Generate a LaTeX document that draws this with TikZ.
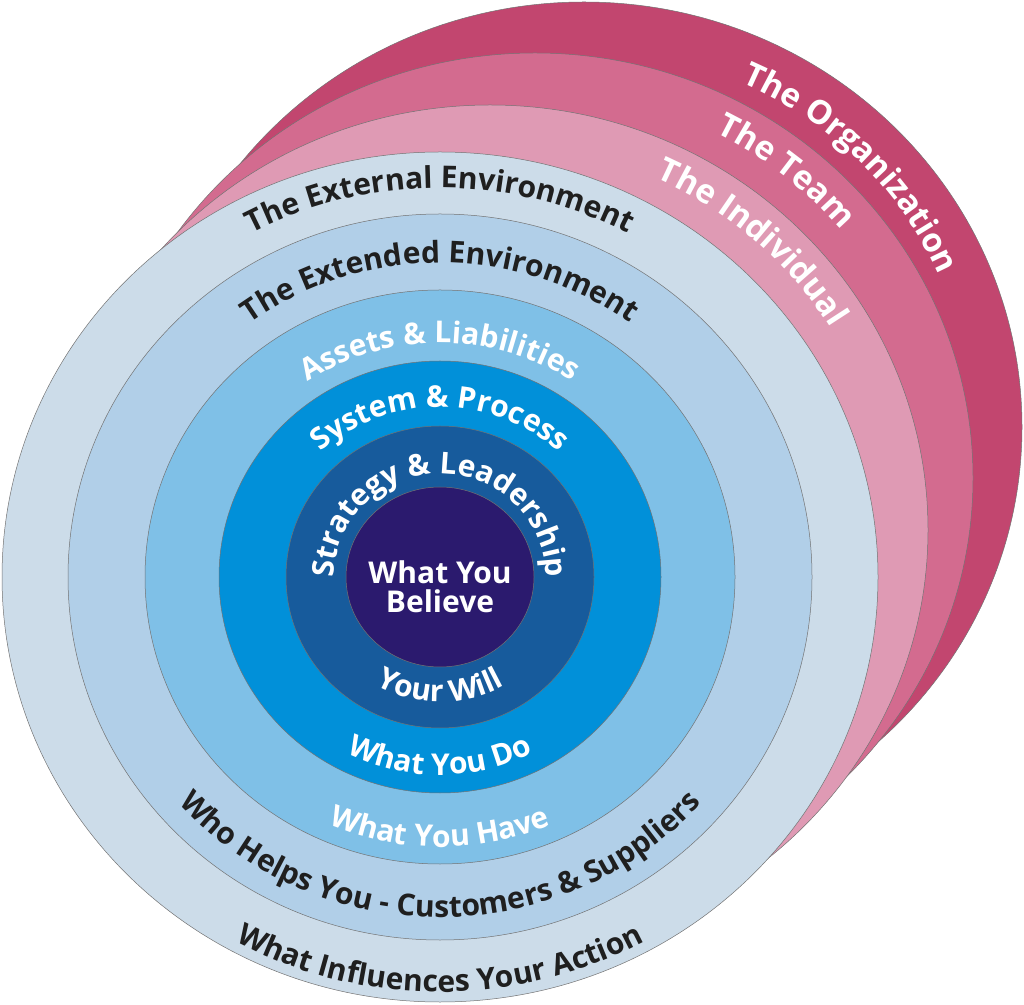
\documentclass[tikz,border=0pt]{standalone}
\usepackage{fontspec}
\setmainfont{Open Sans}
\usepackage{tikz}
\usetikzlibrary{decorations.text}
\definecolor{org}{HTML}{C2466F}
\definecolor{team}{HTML}{D36B8F}
\definecolor{indiv}{HTML}{DF9AB4}
\definecolor{extern}{HTML}{CCDCE9}
\definecolor{extend}{HTML}{B1CFE8}
\definecolor{assets}{HTML}{7FC0E7}
\definecolor{system}{HTML}{0190D9}
\definecolor{strat}{HTML}{175B9C}
\definecolor{belief}{HTML}{2B1A6E}
\newcommand{\darktxt}{\bfseries\fontsize{30}{32}\selectfont\color{black!88}}
\newcommand{\lighttxt}{\bfseries\fontsize{30}{32}\selectfont\color{white}}
\newcommand{\pinktxt}{\bfseries\fontsize{33}{35}\selectfont\color{white}}

\begin{document}
\begin{tikzpicture}[x=1pt,y=1pt,
    disc/.style={draw=black!55,line width=0.5pt},
    ringtext/.style={decorate,decoration={text along path,text align=center,text={#1}}}
  ]
    \useasboundingbox (0,0) rectangle (1024,1004);
    \coordinate (c) at (440,427);
    \coordinate (ci) at (490,474);
    \coordinate (ct) at (535,526);
    \coordinate (co) at (584,577);
    % back discs
    \draw[disc,fill=org] (co) ellipse [x radius=438,y radius=425];
    \draw[disc,fill=team] (ct) ellipse [x radius=438,y radius=425];
    \draw[disc,fill=indiv] (ci) ellipse [x radius=438,y radius=425];
    % front rings
    \draw[disc,fill=extern] (c) ellipse [x radius=438,y radius=425];
    \draw[disc,fill=extend] (c) ellipse [x radius=372,y radius=363];
    \draw[disc,fill=assets] (c) ellipse [x radius=295,y radius=287];
    \draw[disc,fill=system] (c) ellipse [x radius=221,y radius=216];
    \draw[disc,fill=strat] (c) ellipse [x radius=154,y radius=151];
    \draw[disc,fill=belief] (c) ellipse [x radius=94,y radius=90];
    \node[align=center,font=\lighttxt,inner sep=0pt] (believe) at ([yshift=-10]c) {What You\\[-3pt]Believe};
    % upper labels
    \path[ringtext={|\darktxt|The External Environment}] (c) ++(185:401 and 389) arc[start angle=185,end angle=-5,x radius=401,y radius=389];
    \path[ringtext={|\darktxt|The Extended Environment}] (c) ++(185:323 and 314) arc[start angle=185,end angle=-5,x radius=323,y radius=314];
    \path[ringtext={|\lighttxt|Assets {\&} Liabilities}] (c) ++(185:241 and 234) arc[start angle=185,end angle=-5,x radius=241,y radius=234];
    \path[ringtext={|\lighttxt|System {\&} Process}] (c) ++(200:176 and 170) arc[start angle=200,end angle=-20,x radius=176,y radius=170];
    \path[ringtext={|\lighttxt|Strategy {\&} Leadership}] (c) ++(215:106 and 103) arc[start angle=215,end angle=-35,x radius=106,y radius=103];
    % lower labels
    \path[ringtext={|\lighttxt|Your Will}] (c) ++(180:129 and 125) arc[start angle=180,end angle=360,x radius=129,y radius=125];
    \path[ringtext={|\lighttxt|What You Do}] (c) ++(180:204 and 198) arc[start angle=180,end angle=360,x radius=204,y radius=198];
    \path[ringtext={|\lighttxt|What You Have}] (c) ++(180:278 and 270) arc[start angle=180,end angle=360,x radius=278,y radius=270];
    \path[ringtext={|\darktxt|Who Helps You - Customers {\&} Suppliers}] (c) ++(160:350 and 340) arc[start angle=160,end angle=380,x radius=350,y radius=340];
    \path[ringtext={|\darktxt|What Influences Your Action}] (c) ++(180:427 and 415) arc[start angle=180,end angle=360,x radius=427,y radius=415];
    % back disc labels
    \path[ringtext={|\pinktxt|The Individual}] (ci) ++(98:399 and 387) arc[start angle=98,end angle=-2,x radius=399,y radius=387];
    \path[ringtext={|\pinktxt|The Team}] (ct) ++(101:399 and 387) arc[start angle=101,end angle=1,x radius=399,y radius=387];
    \path[ringtext={|\pinktxt|The Organization}] (co) ++(95:388 and 377) arc[start angle=95,end angle=-6,x radius=388,y radius=377];
  \end{tikzpicture}
\end{document}
